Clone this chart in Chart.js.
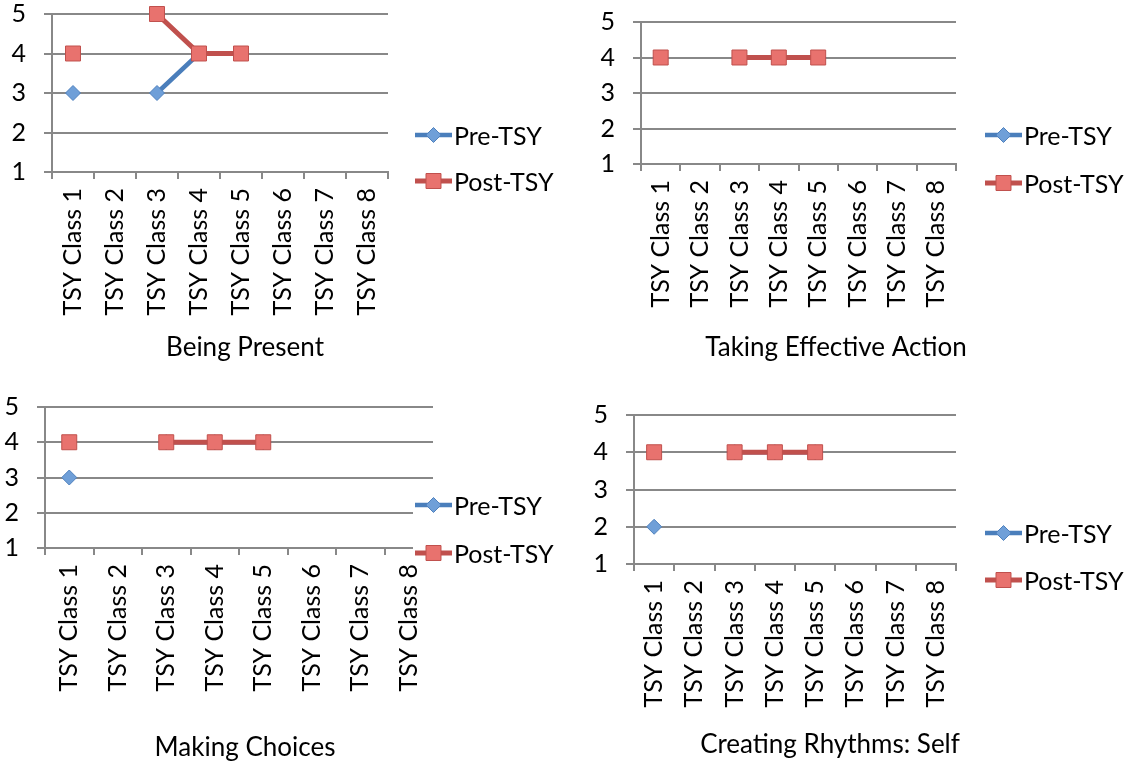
<!DOCTYPE html>
<html>
<head>
<meta charset="utf-8">
<script src="https://cdn.jsdelivr.net/npm/chart.js@4/dist/chart.umd.min.js"></script>
<style>
  html, body { margin: 0; padding: 0; background: #ffffff; }
  body { width: 1128px; height: 767px; position: relative; overflow: hidden; }
  canvas { position: absolute; display: block; }
</style>
</head>
<body>
<canvas id="beingPresent" width="560" height="380" style="left:0px;top:0px"></canvas>
<canvas id="effectiveAction" width="568" height="380" style="left:560px;top:0px"></canvas>
<canvas id="makingChoices" width="560" height="382" style="left:0px;top:385px"></canvas>
<canvas id="rhythmsSelf" width="568" height="382" style="left:560px;top:385px"></canvas>
<script>
// Class sessions along the x axis
const classLabels = ['TSY Class 1', 'TSY Class 2', 'TSY Class 3', 'TSY Class 4',
                     'TSY Class 5', 'TSY Class 6', 'TSY Class 7', 'TSY Class 8'];
// Rating scale shown on the y axis
const ratingTicks = [1, 2, 3, 4, 5];
const seriesNames = ['Pre-TSY', 'Post-TSY'];

// Ratings per class (null = no rating recorded)
const beingPresentPre     = [3, null, 3, 4, 4, null, null, null];
const beingPresentPost    = [4, null, 5, 4, 4, null, null, null];
const effectiveActionPre  = [4, null, 4, 4, 4, null, null, null];
const effectiveActionPost = [4, null, 4, 4, 4, null, null, null];
const makingChoicesPre    = [3, null, 4, 4, 4, null, null, null];
const makingChoicesPost   = [4, null, 4, 4, 4, null, null, null];
const rhythmsSelfPre      = [2, null, 4, 4, 4, null, null, null];
const rhythmsSelfPost     = [4, null, 4, 4, 4, null, null, null];

const FONT = 'Lato, "Open Sans", sans-serif';
const GRID = '#888888';
const PRE_LINE = '#4a7ebb', PRE_FILL = '#6f9fd8', PRE_EDGE = '#4f81bd';
const POST_LINE = '#c0504d', POST_FILL = '#e8726e', POST_EDGE = '#c0504d';

// Legend drawn as a line with the series marker in its middle, text to the right
const seriesLegend = {
  id: 'seriesLegend',
  afterDraw(chart, args, o) {
    const ctx = chart.ctx;
    ctx.save();
    if (o.box) {
      ctx.fillStyle = '#ffffff';
      ctx.fillRect(o.box[0], o.box[1], o.box[2], o.box[3]);
    }
    chart.data.datasets.forEach((ds, i) => {
      const y = o.ys[i];
      const x0 = o.x, x1 = o.x + o.lineLen, cx = (x0 + x1) / 2;
      ctx.strokeStyle = ds.borderColor;
      ctx.lineWidth = ds.borderWidth;
      ctx.beginPath();
      ctx.moveTo(x0, y);
      ctx.lineTo(x1, y);
      ctx.stroke();
      ctx.fillStyle = ds.pointBackgroundColor;
      ctx.strokeStyle = ds.pointBorderColor;
      ctx.lineWidth = ds.pointBorderWidth;
      ctx.beginPath();
      const r = ds.pointRadius;
      if (ds.pointStyle === 'rectRot') {
        ctx.moveTo(cx - r, y); ctx.lineTo(cx, y - r); ctx.lineTo(cx + r, y); ctx.lineTo(cx, y + r);
        ctx.closePath();
      } else {
        const h = r * Math.SQRT1_2;
        ctx.rect(cx - h, y - h, 2 * h, 2 * h);
      }
      ctx.fill();
      ctx.stroke();
      ctx.fillStyle = '#000000';
      ctx.font = o.fontSize + 'px ' + FONT;
      ctx.textBaseline = 'middle';
      ctx.textAlign = 'left';
      ctx.fillText(ds.label, x1 + o.gap, y + o.textDy);
    });
    ctx.restore();
  }
};

function makePanel(id, title, pre, post, g) {
  new Chart(document.getElementById(id), {
    type: 'line',
    data: {
      labels: classLabels,
      datasets: [
        { label: seriesNames[0], data: pre, order: 1, clip: false,
          borderColor: PRE_LINE, borderWidth: 4.5, tension: 0, spanGaps: false,
          pointStyle: 'rectRot', pointRadius: 7.5,
          pointBackgroundColor: PRE_FILL, pointBorderColor: PRE_EDGE, pointBorderWidth: 1 },
        { label: seriesNames[1], data: post, order: 0, clip: false,
          borderColor: POST_LINE, borderWidth: 5, tension: 0, spanGaps: false,
          pointStyle: 'rect', pointRadius: 10.6,
          pointBackgroundColor: POST_FILL, pointBorderColor: POST_EDGE, pointBorderWidth: 1 }
      ]
    },
    options: {
      responsive: false,
      animation: false,
      devicePixelRatio: 1,
      layout: { padding: { left: 0, right: g.pr, top: g.pt, bottom: g.pb } },
      plugins: {
        legend: { display: false },
        tooltip: { enabled: false },
        title: {
          display: true, text: title, position: 'bottom', color: '#000000',
          font: { family: FONT, size: 26, weight: 'normal' }, padding: 0
        },
        seriesLegend: g.legend
      },
      scales: {
        x: {
          type: 'category', offset: true,
          grid: { offset: true, drawOnChartArea: false, drawTicks: true, tickLength: 7,
                  color: GRID, lineWidth: 2 },
          border: { display: true, color: GRID, width: 2 },
          ticks: { autoSkip: false, minRotation: 90, maxRotation: 90, padding: 9,
                   color: '#000000', font: { family: FONT, size: 25 } },
          afterFit: s => { s.height = g.xh; }
        },
        y: {
          min: 1, max: 5,
          grid: { color: GRID, lineWidth: 2, drawTicks: true, tickLength: 8 },
          border: { display: true, color: GRID, width: 2 },
          ticks: { padding: 18, color: '#000000', font: { family: FONT, size: 25, lineHeight: 1 } },
          afterBuildTicks: s => { s.ticks = ratingTicks.map(v => ({ value: v })); },
          afterFit: s => { s.width = g.yw; s.paddingTop = 0; s.paddingBottom = 0; }
        },
        legendSpace: {
          type: 'linear', position: 'right', display: true,
          grid: { display: false }, ticks: { display: false }, border: { display: false },
          afterFit: s => { s.width = g.padW; s.paddingTop = 0; s.paddingBottom = 0; }
        }
      }
    },
    plugins: [seriesLegend]
  });
}

makePanel('beingPresent', 'Being Present', beingPresentPre, beingPresentPost, {
  pr: 70, pt: 14, pb: 16.4, yw: 52, xh: 160.4, padW: 102,
  legend: { x: 415, lineLen: 37, gap: 2, ys: [135, 181], fontSize: 25, textDy: 2 }
});
makePanel('effectiveAction', 'Taking Effective Action', effectiveActionPre, effectiveActionPost, {
  pr: 16, pt: 22, pb: 16.4, yw: 81, xh: 168.4, padW: 156,
  legend: { x: 425, lineLen: 37, gap: 2, ys: [135, 183], fontSize: 25, textDy: 2 }
});
makePanel('makingChoices', 'Making Choices', makingChoicesPre, makingChoicesPost, {
  pr: 70, pt: 22, pb: 3.4, yw: 45, xh: 184.4, padW: 57,
  legend: { x: 415, lineLen: 37, gap: 2, ys: [120, 168], fontSize: 25, textDy: 2,
            box: [413, 100, 147, 80] }
});
makePanel('rhythmsSelf', 'Creating Rhythms: Self', rhythmsSelfPre, rhythmsSelfPost, {
  pr: 28, pt: 30, pb: 6.4, yw: 74, xh: 165.4, padW: 144,
  legend: { x: 425, lineLen: 37, gap: 2, ys: [148, 195], fontSize: 25, textDy: 2 }
});
</script>
</body>
</html>
